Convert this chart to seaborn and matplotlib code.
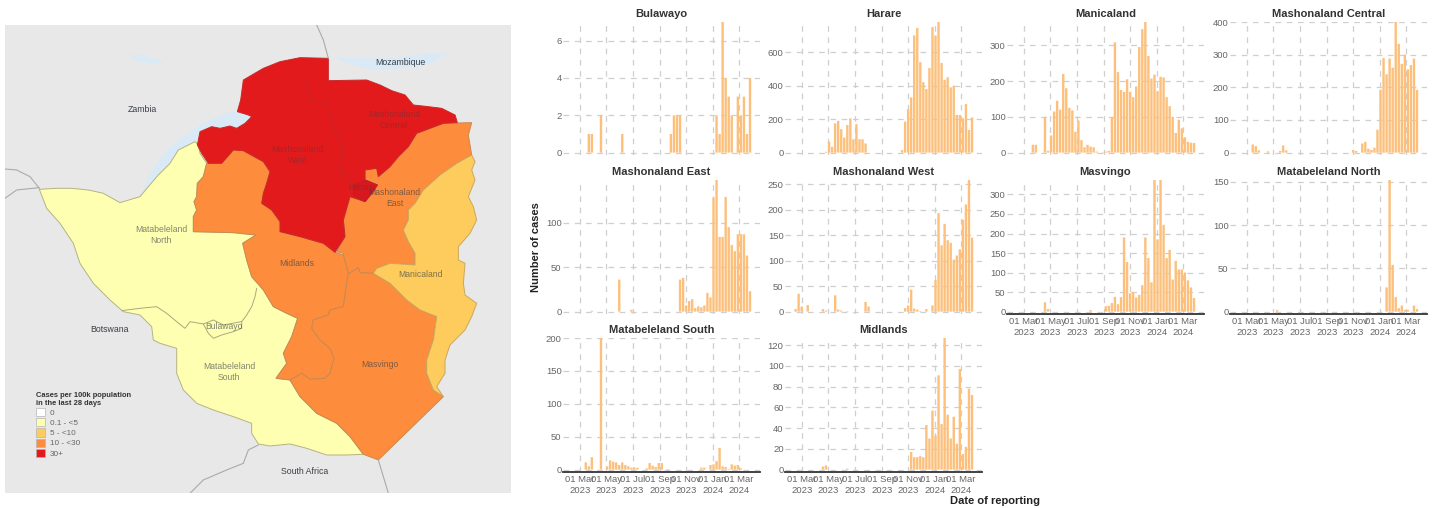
import pandas as pd
import seaborn as sns
import matplotlib.pyplot as plt
from matplotlib.patches import Patch

sns.set_theme(style='white')
plt.rcParams['font.family'] = ['Liberation Sans', 'DejaVu Sans']

# weekly cases by province, one value per week from mid Feb 2023 to late Mar 2024
bulawayo = [0]*5 + [1, 1] + [0]*2 + [2] + [0]*6 + [1] + [0]*15 + [1, 2, 2, 2] + [0]*11 + [2, 1, 7, 4, 3, 2] + [0] + [3, 2, 3, 1, 4]
harare = [0]*10 + [5, 65, 35, 175, 190, 140, 90, 165, 205, 80, 170, 80, 80, 55] + [0]*11 + [15, 185, 260, 330, 700, 745, 540, 420, 380, 505, 750, 700, 780, 535, 435, 450, 390, 400, 225, 225, 205, 290, 135, 210]
manicaland = [0]*5 + [22, 22] + [0]*2 + [100, 5, 48, 115, 145, 120, 220, 180, 125, 118, 58, 90, 35, 15, 22, 17, 15, 3] + [0] + [1, 3, 5, 100, 308, 225, 175, 170, 205, 170, 155, 185, 295, 345, 365, 270, 207, 218, 172, 212, 210, 155, 130, 100, 55, 92, 68, 43, 30, 28, 27]
mash_central = [0]*4 + [25, 20, 7] + [0]*2 + [4] + [0]*3 + [5, 22, 7] + [0]*21 + [8, 5] + [0] + [28, 33, 12, 8, 15, 70, 193, 290, 240, 288, 260, 400, 333, 272, 300, 255, 268, 288, 192]
mash_east = [0]*6 + [1] + [0]*8 + [36] + [0]*3 + [2] + [0]*15 + [36, 38, 7, 12, 14, 4, 6, 5, 7, 21, 16, 128, 148, 84, 84, 129, 95, 75, 68, 87, 87, 87, 63, 23]
mash_west = [5, 35, 10, 0, 13] + [0]*4 + [5, 2] + [0]*2 + [32, 4, 2, 0, 1] + [0]*5 + [19, 10] + [0]*11 + [7, 12, 43, 6, 4, 1, 0, 5, 0] + [12, 62, 193, 130, 172, 140, 135, 102, 110, 122, 180, 210, 258, 145]
masvingo = [0]*9 + [24, 7] + [0]*13 + [4] + [0]*4 + [14, 15, 22, 38, 19, 37, 190, 127, 47, 50, 36, 43, 68, 190, 137, 75, 337, 185, 337, 222, 137, 158, 82, 130, 108, 108, 100, 80, 62, 35]
mat_north = [0]*12 + [2] + [0]*35 + [28, 152, 54, 17, 4, 7, 2, 2, 0, 7, 3]
mat_south = [0]*4 + [11, 5, 19, 0, 0, 200, 0, 5, 14, 12, 11, 7, 11, 7, 5, 3, 3, 3, 0, 0, 2, 10, 6, 4, 10, 10, 0, 1] + [0]*10 + [3, 3, 0, 7, 8, 13, 33, 5, 4, 1, 8, 6, 7, 2, 0, 0, 0]
midlands = [0]*9 + [3, 4] + [0]*6 + [1] + [0]*20 + [17, 12, 12, 13, 12, 43, 30, 57, 33, 91, 44, 127, 53, 30, 51, 25, 97, 15, 22, 78, 72]

province_names = ['Bulawayo', 'Harare', 'Manicaland', 'Mashonaland Central', 'Mashonaland East',
                  'Mashonaland West', 'Masvingo', 'Matabeleland North', 'Matabeleland South', 'Midlands']
province_cases = [bulawayo, harare, manicaland, mash_central, mash_east,
                  mash_west, masvingo, mat_north, mat_south, midlands]
y_ticks = [[0, 2, 4, 6], [0, 200, 400, 600], [0, 100, 200, 300], [0, 100, 200, 300, 400], [0, 50, 100],
           [0, 50, 100, 150, 200, 250], [0, 50, 100, 150, 200, 250, 300], [0, 50, 100, 150],
           [0, 50, 100, 150, 200], [0, 20, 40, 60, 80, 100, 120]]
tick_dates = ['2023-03-01', '2023-05-01', '2023-07-01', '2023-09-01', '2023-11-01', '2024-01-01', '2024-03-01']
tick_labels = ['01 Mar\n2023', '01 May\n2023', '01 Jul\n2023', '01 Sep\n2023', '01 Nov\n2023', '01 Jan\n2024', '01 Mar\n2024']

# map outlines in map units
mat_outline = [(118,508),(170,505),(215,505),(265,510),(310,520),(360,548),(420,530),(445,500),(475,465),(510,430),(535,390),(585,365),(595,375),(600,400),(620,430),(610,470),(592,490),(590,530),(582,545),(590,570),(580,590),(580,635),(700,638),(768,645),(728,670),(740,720),(755,770),(790,810),(820,860),(860,880),(893,895),(875,950),(850,1000),(860,1030),(828,1075),(870,1080),(900,1130),(950,1180),(1010,1210),(1050,1250),(1090,1303),(1040,1305),(980,1305),(920,1285),(870,1272),(810,1278),(775,1272),(755,1240),(755,1210),(700,1190),(640,1170),(590,1150),(550,1110),(530,1060),(530,985),(480,970),(460,960),(455,920),(420,885),(370,875),(330,840),(280,790),(240,730),(220,670),(180,610),(140,565)]
red_outline = [(985,115),(900,113),(840,125),(790,145),(730,180),(722,240),(712,275),(745,285),(755,290),(735,310),(710,325),(690,318),(660,325),(635,320),(600,335),(592,375),(605,400),(625,430),(665,430),(700,390),(730,392),(790,425),(810,455),(800,490),(790,520),(785,550),(815,570),(840,605),(840,635),(900,650),(970,670),(1005,697),(1035,650),(1030,600),(1050,530),(1095,545),(1115,520),(1132,495),(1095,480),(1095,450),(1130,445),(1135,470),(1170,440),(1195,410),(1225,380),(1250,340),(1290,325),(1330,310),(1372,308),(1365,285),(1325,265),(1285,260),(1240,255),(1215,225),(1175,212),(1140,195),(1100,180),(985,182)]
mash_east_outline = [(1095,450),(1130,445),(1135,470),(1170,440),(1195,410),(1225,380),(1250,340),(1290,325),(1330,310),(1415,308),(1405,345),(1415,405),(1370,430),(1320,465),(1270,510),(1245,550),(1225,570),(1225,600),(1210,630),(1225,665),(1245,700),(1245,735),(1170,730),(1130,745),(1120,760),(1080,758),(1075,743),(1045,762),(1030,700),(1010,695),(1035,650),(1030,600),(1050,530),(1095,545),(1115,520),(1132,495),(1095,480)]
midlands_outline = [(620,430),(665,430),(700,390),(730,392),(790,425),(810,455),(800,490),(790,520),(785,550),(815,570),(840,605),(840,635),(900,650),(970,670),(1005,697),(1030,705),(1045,762),(1040,790),(1030,860),(990,870),(985,885),(940,900),(935,925),(960,960),(990,985),(1002,1015),(990,1060),(975,1075),(930,1078),(905,1060),(870,1080),(828,1075),(860,1030),(850,1000),(875,950),(893,895),(860,880),(820,860),(790,810),(755,770),(740,720),(728,670),(768,645),(700,638),(580,635),(580,590),(590,570),(582,545),(590,530),(592,490),(610,470)]
masvingo_outline = [(1045,762),(1075,743),(1080,758),(1120,760),(1170,790),(1220,840),(1260,870),(1310,890),(1300,960),(1280,1020),(1280,1060),(1300,1110),(1330,1130),(1135,1320),(1090,1303),(1050,1250),(1010,1210),(950,1180),(900,1130),(870,1080),(905,1060),(930,1078),(975,1075),(990,1060),(1002,1015),(990,985),(960,960),(935,925),(940,900),(985,885),(990,870),(1030,860),(1040,790)]
manicaland_outline = [(1415,405),(1425,425),(1415,450),(1425,480),(1405,530),(1420,560),(1430,600),(1410,640),(1375,680),(1375,720),(1395,730),(1390,790),(1395,825),(1430,850),(1415,890),(1395,930),(1350,975),(1335,1020),(1335,1060),(1310,1100),(1330,1130),(1300,1110),(1280,1060),(1280,1020),(1300,960),(1310,890),(1260,870),(1220,840),(1170,790),(1120,760),(1130,745),(1170,730),(1245,735),(1245,700),(1225,665),(1210,630),(1225,600),(1225,570),(1245,550),(1270,510),(1320,465),(1370,430)]
harare_outline = [(1060,495),(1095,480),(1132,495),(1115,520),(1095,545),(1060,525)]
lakes = [[(425,525),(445,500),(475,465),(510,430),(535,390),(585,365),(600,335),(635,320),(660,325),(690,318),(710,325),(735,310),(755,290),(745,280),(690,275),(630,300),(585,325),(550,350),(510,380),(470,430),(440,480)],
         [(1000,110),(1050,135),(1130,150),(1200,145),(1290,130),(1350,100),(1280,100),(1180,115),(1080,115)],
         [(385,105),(420,125),(490,135),(480,120),(430,105)]]
borders = [[(950,15),(970,60),(985,115)], [(15,447),(50,450),(90,470),(118,505)], [(15,535),(50,510),(118,503)],
           [(570,1420),(610,1380),(680,1350),(730,1330),(745,1290),(775,1275)], [(1135,1320),(1165,1420)]]
mat_divide = [(365,872),(420,865),(470,860),(500,880),(530,905),(555,925),(570,905),(610,912),(640,900),(670,915),(725,905),(740,885),(755,860),(765,830),(770,805)]
bulawayo_line = [(610,912),(625,940),(640,955),(665,945),(700,935),(725,925),(725,905)]
red_divides = [[(920,180),(930,240),(985,250),(1000,320),(1030,380),(1020,450),(1060,495)]]

countries = [('Zambia', 428, 270), ('Mozambique', 1200, 128), ('Botswana', 328, 928), ('South Africa', 915, 1355)]
map_labels = [('Matabeleland\nNorth', 484, 646, 0.62), ('Matabeleland\nSouth', 688, 1056, 0.62), ('Bulawayo', 672, 919, 0.62),
              ('Midlands', 890, 730, 0.62), ('Masvingo', 1140, 1033, 0.62), ('Manicaland', 1260, 764, 0.62),
              ('Mashonaland\nEast', 1184, 534, 0.62), ('Mashonaland\nWest', 892, 406, 0.35), ('Mashonaland\nCentral', 1182, 300, 0.35), ('Harare', 1085, 503, 0.35)]
legend_labels = ['0', '0.1 - <5', '5 - <10', '10 - <30', '30+']
legend_colors = ['#ffffff', '#ffffb2', '#fecc5c', '#fd8d3c', '#e31a1c']

W, H = 1437, 508
first_tick = pd.Timestamp(tick_dates[0])
week_start = pd.date_range('2023-02-15', periods=59, freq='7D')
tick_days = [(pd.Timestamp(d) - first_tick).days for d in tick_dates]

df = pd.concat([pd.DataFrame({'province': name, 'day': (week_start - first_tick).days, 'cases': cases})
                for name, cases in zip(province_names, province_cases)])

g = sns.FacetGrid(df, col='province', col_wrap=4, col_order=province_names, sharey=False, sharex=True)
g.map_dataframe(sns.barplot, x='day', y='cases', native_scale=True, width=0.78,
                color='#fcc07c', saturation=1, linewidth=0, errorbar=None)
g.figure.set_size_inches(W / 100, H / 100)
g.set_titles('{col_name}', fontweight='bold', size=8, color='#333333', pad=3.3)
g.set_axis_labels('', '')

col_left = [563, 785, 1007, 1230]
row_top = [22, 180, 338]
row_bottom = [155, 314, 472]
for i, (ax, cases, ticks) in enumerate(zip(g.axes.flat, province_cases, y_ticks)):
    row, col = i // 4, i % 4
    ax.set_position([col_left[col] / W, 1 - row_bottom[row] / H, 197 / W, (row_bottom[row] - row_top[row]) / H])
    top = max(cases)
    ax.set_xlim(-38.4, 415)
    ax.set_ylim(-0.018 * top, top)
    ax.set_xticks(tick_days)
    ax.set_xticklabels(tick_labels)
    ax.set_yticks(ticks)
    ax.set_axisbelow(True)
    ax.grid(True, color='#cfcfcf', linewidth=0.9, linestyle=(0, (4.5, 4.5)))
    for bar in ax.patches:
        bar.set_snap(False)
    has_labels = i >= 6
    ax.tick_params(axis='x', labelbottom=has_labels, length=0, labelsize=6.8, labelcolor='#666666', pad=2.5)
    ax.tick_params(axis='y', length=0, labelsize=6.8, labelcolor='#666666', pad=1)
    for side in ['top', 'left', 'right']:
        ax.spines[side].set_visible(False)
    ax.spines['bottom'].set_visible(has_labels)
    ax.spines['bottom'].set_color('#333333')
    ax.spines['bottom'].set_linewidth(1.3)

g.figure.text(536 / W, 1 - 247 / H, 'Number of cases', rotation=90, ha='center', va='center',
              fontweight='bold', fontsize=8, color='#222222')
g.figure.text(995 / W, 1 - 501 / H, 'Date of reporting', ha='center', va='center',
              fontweight='bold', fontsize=8, color='#222222')

# map panel on the left
ax_map = g.figure.add_axes([5 / W, 1 - 493.3 / H, 505.7 / W, 468.3 / H])
ax_map.set_xlim(15, 1532)
ax_map.set_ylim(1420, 15)
ax_map.set_facecolor('#e8e8e8')
ax_map.set_xticks([])
ax_map.set_yticks([])
for side in ax_map.spines:
    ax_map.spines[side].set_visible(False)

for lake in lakes:
    ax_map.fill(*zip(*lake), color='#d9eaf6', linewidth=0)
for line in borders:
    ax_map.plot(*zip(*line), color='#aaaaaa', linewidth=0.8)

fills = [(mat_outline, '#ffffb2', '#b3b383'), (midlands_outline, '#fd8d3c', '#c98a50'),
         (mash_east_outline, '#fd8d3c', '#c98a50'), (masvingo_outline, '#fd8d3c', '#c98a50'),
         (manicaland_outline, '#fecc5c', '#c9a85f'), (red_outline, '#e31a1c', '#c92a2a'),
         (harare_outline, '#d8181f', '#c02025')]
for outline, fill_color, edge_color in fills:
    ax_map.fill(*zip(*outline), facecolor=fill_color, edgecolor=edge_color, linewidth=0.7)
for line in [mat_divide, bulawayo_line]:
    ax_map.plot(*zip(*line), color='#a9a97c', linewidth=0.7)
for line in red_divides:
    ax_map.plot(*zip(*line), color='#c4252a', linewidth=0.7)

for name, x, y in countries:
    ax_map.text(x, y, name, ha='center', va='center', fontsize=6.3, color='#3a4048')
for name, x, y, fade in map_labels:
    ax_map.text(x, y, name, ha='center', va='center', fontsize=6.2, color='#333a45', alpha=fade, linespacing=1.25)

handles = [Patch(facecolor=c, edgecolor='#b5b5b5', linewidth=0.5, label=l) for c, l in zip(legend_colors, legend_labels)]
legend = ax_map.legend(handles=handles, title='Cases per 100k population\nin the last 28 days', frameon=False,
                       loc='lower left', bbox_to_anchor=(107, 1313), bbox_transform=ax_map.transData,
                       fontsize=5.9, alignment='left', handlelength=1.15, handleheight=1.15,
                       labelspacing=0.16, handletextpad=0.6, borderpad=0, borderaxespad=0, labelcolor='#666666',
                       title_fontproperties={'weight': 'bold', 'size': 5.4})
legend.get_title().set_color('#333333')

g.figure.savefig('out.png', dpi=100)
